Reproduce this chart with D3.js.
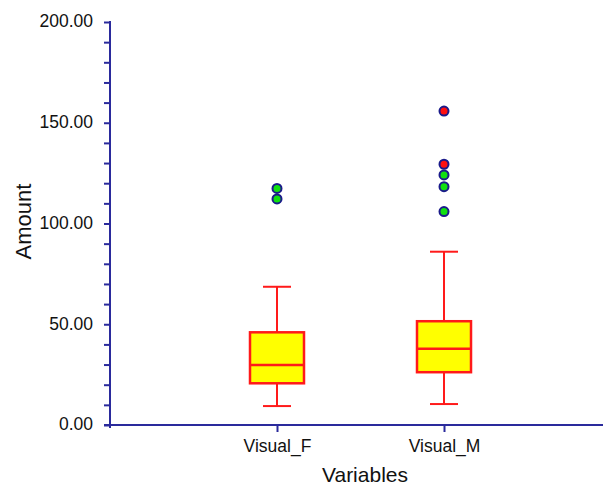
<!DOCTYPE html>
<html>
<head>
<meta charset="utf-8">
<script src="https://cdn.jsdelivr.net/npm/d3@7"></script>
<style>
  body { margin: 0; background: #fff; }
  text { font-family: Arial, "Liberation Sans", sans-serif; fill: #111; }
</style>
</head>
<body>
<svg id="chart" width="603" height="488"></svg>
<script>
// data
const categories = ['Visual_F', 'Visual_M'];
const lowWhisker = [9.4, 10.4];
const q1 = [20.7, 26.2];
const medians = [29.8, 37.9];
const q3 = [46.0, 51.5];
const highWhisker = [68.6, 86.0];
const outliers = [
  [112.2, 117.4],
  [105.9, 118.3, 124.1, 129.4, 155.8]
];
const yTicks = [0, 50, 100, 150, 200];

const svg = d3.select('#chart');
const axisColor = '#2a2a9c';
const boxStroke = '#ff1a1a';

const xScale = d3.scaleLinear()
  .domain([0, 3])
  .range([110, 611]);

const yScale = d3.scaleLinear()
  .domain([0, 200])
  .range([425, 22]);

// y axis, minor ticks every 10
const yAxis = d3.axisLeft(yScale)
  .tickValues(d3.range(0, 201, 10))
  .tickSize(6)
  .tickFormat(d => yTicks.includes(d) ? d3.format('.2f')(d) : '');

const yAxisG = svg.append('g')
  .attr('class', 'y-axis')
  .attr('transform', `translate(${xScale(0)},0)`)
  .call(yAxis);

yAxisG.select('.domain').remove();
yAxisG.selectAll('line').attr('stroke', axisColor).attr('stroke-width', 2);
yAxisG.selectAll('text')
  .attr('x', -17)
  .attr('dy', '0.28em')
  .style('font-size', '17.5px')
  .style('fill', '#111');

yAxisG.append('line')
  .attr('x1', 0).attr('x2', 0)
  .attr('y1', yScale(200) - 1)
  .attr('y2', yScale(0) + 3)
  .attr('stroke', axisColor)
  .attr('stroke-width', 2);

// x axis
const xAxis = d3.axisBottom(xScale)
  .tickValues([1, 2])
  .tickSize(7)
  .tickFormat(d => categories[d - 1]);

const xAxisG = svg.append('g')
  .attr('class', 'x-axis')
  .attr('transform', `translate(0,${yScale(0)})`)
  .call(xAxis);

xAxisG.select('.domain').remove();
xAxisG.selectAll('line').attr('stroke', axisColor).attr('stroke-width', 2);
xAxisG.selectAll('text')
  .attr('y', 15)
  .style('font-size', '17.5px')
  .style('fill', '#111');

xAxisG.append('line')
  .attr('x1', xScale(0) - 6).attr('x2', 603)
  .attr('y1', 0).attr('y2', 0)
  .attr('stroke', axisColor)
  .attr('stroke-width', 2);

// axis labels
svg.append('text')
  .attr('transform', `translate(31,${(yScale(0) + yScale(200)) / 2 - 2}) rotate(-90)`)
  .attr('text-anchor', 'middle')
  .style('font-size', '22px')
  .text('Amount');

svg.append('text')
  .attr('x', 365)
  .attr('y', 482)
  .attr('text-anchor', 'middle')
  .style('font-size', '21px')
  .text('Variables');

// boxes
const boxData = categories.map((c, i) => ({
  key: c,
  x: i + 1,
  lo: lowWhisker[i],
  q1: q1[i],
  med: medians[i],
  q3: q3[i],
  hi: highWhisker[i],
  out: outliers[i]
}));

const boxW = 54;
const capW = 28;

const boxes = svg.selectAll('.box').data(boxData)
  .enter().append('g')
    .attr('class', 'box')
    .attr('transform', d => `translate(${xScale(d.x)},0)`);

// whiskers
boxes.append('line')
  .attr('x1', 0).attr('x2', 0)
  .attr('y1', d => yScale(d.hi))
  .attr('y2', d => yScale(d.q3))
  .attr('stroke', boxStroke).attr('stroke-width', 2);

boxes.append('line')
  .attr('x1', 0).attr('x2', 0)
  .attr('y1', d => yScale(d.q1))
  .attr('y2', d => yScale(d.lo))
  .attr('stroke', boxStroke).attr('stroke-width', 2);

boxes.append('line')
  .attr('x1', -capW / 2).attr('x2', capW / 2)
  .attr('y1', d => yScale(d.hi)).attr('y2', d => yScale(d.hi))
  .attr('stroke', boxStroke).attr('stroke-width', 2);

boxes.append('line')
  .attr('x1', -capW / 2).attr('x2', capW / 2)
  .attr('y1', d => yScale(d.lo)).attr('y2', d => yScale(d.lo))
  .attr('stroke', boxStroke).attr('stroke-width', 2);

boxes.append('rect')
  .attr('x', -boxW / 2)
  .attr('width', boxW)
  .attr('y', d => yScale(d.q3))
  .attr('height', d => yScale(d.q1) - yScale(d.q3))
  .attr('fill', '#ffff00')
  .attr('stroke', boxStroke)
  .attr('stroke-width', 2.5);

boxes.append('line')
  .attr('x1', -boxW / 2).attr('x2', boxW / 2)
  .attr('y1', d => yScale(d.med)).attr('y2', d => yScale(d.med))
  .attr('stroke', boxStroke).attr('stroke-width', 2.5);

// outliers: beyond 3*IQR drawn red, otherwise green
boxes.selectAll('circle')
  .data(d => d.out.map(v => ({ v, far: v > d.q3 + 3 * (d.q3 - d.q1) })))
  .enter().append('circle')
    .attr('cx', 0)
    .attr('cy', d => yScale(d.v))
    .attr('r', 4.5)
    .attr('fill', d => d.far ? '#ff1010' : '#10e010')
    .attr('stroke', '#1a1a8a')
    .attr('stroke-width', 2);
</script>
</body>
</html>
